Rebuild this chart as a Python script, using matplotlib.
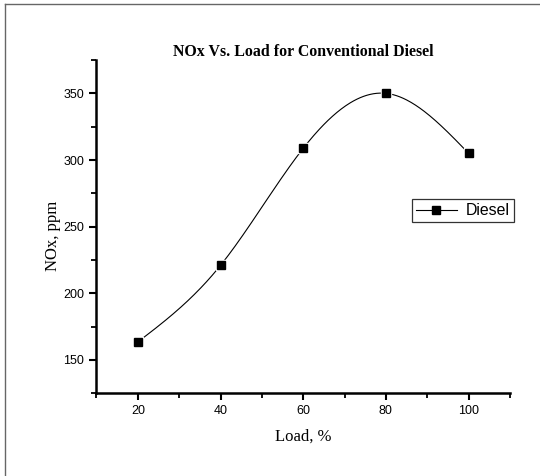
import numpy as np
import matplotlib
matplotlib.use('Agg')
import matplotlib.pyplot as plt
from matplotlib.lines import Line2D

# datos
load = [20, 40, 60, 80, 100]
nox = [163.5, 221.0, 308.8, 350.0, 305.0]
xticks = [20, 40, 60, 80, 100]
yticks = [150, 200, 250, 300, 350]


def spline_natural(x, y, xs):
    # spline cubico natural (como la curva "spline" de Origin)
    x = np.asarray(x, float)
    y = np.asarray(y, float)
    n = len(x)
    h = np.diff(x)
    A = np.zeros((n, n))
    b = np.zeros(n)
    A[0, 0] = 1
    A[-1, -1] = 1
    for i in range(1, n - 1):
        A[i, i - 1] = h[i - 1]
        A[i, i] = 2 * (h[i - 1] + h[i])
        A[i, i + 1] = h[i]
        b[i] = 6 * ((y[i + 1] - y[i]) / h[i] - (y[i] - y[i - 1]) / h[i - 1])
    M = np.linalg.solve(A, b)
    out = np.empty_like(xs)
    for k, xv in enumerate(xs):
        i = min(max(np.searchsorted(x, xv) - 1, 0), n - 2)
        t1 = x[i + 1] - xv
        t2 = xv - x[i]
        out[k] = (M[i] * t1**3 + M[i + 1] * t2**3) / (6 * h[i]) \
            + (y[i] / h[i] - M[i] * h[i] / 6) * t1 \
            + (y[i + 1] / h[i] - M[i + 1] * h[i] / 6) * t2
    return out


serif = 'Liberation Serif'
sans = 'Liberation Sans'

fig = plt.figure(figsize=(5.4, 4.76), dpi=100)
ax = fig.add_axes([0.1787, 0.1737, 0.7657, 0.7002])

xs = np.linspace(min(load), max(load), 300)
ax.plot(xs, spline_natural(load, nox, xs), color='black', lw=0.8)
# pequeño hueco blanco alrededor de los marcadores
ax.plot(load, nox, 's', color='white', ms=7.5)
ax.plot(load, nox, 's', color='black', ms=5.2)

ax.set_xlim(10, 110)
ax.set_ylim(125, 375)
ax.set_xticks(xticks)
ax.set_yticks(yticks)
ax.set_xticks([10, 30, 50, 70, 90, 110], minor=True)
ax.set_yticks([125, 175, 225, 275, 325, 375], minor=True)
ax.spines['top'].set_visible(False)
ax.spines['right'].set_visible(False)
ax.spines['left'].set_linewidth(1.8)
ax.spines['bottom'].set_linewidth(1.8)
ax.tick_params(which='major', direction='out', length=5.2, width=1.5, labelsize=9, pad=3.5)
ax.tick_params(which='minor', direction='out', length=3.6, width=1.3)
for lab in ax.get_xticklabels() + ax.get_yticklabels():
    lab.set_fontfamily(sans)

ax.set_title('NOx Vs. Load for Conventional Diesel', fontfamily=serif,
             fontweight='bold', fontsize=11.4, pad=2.5)
ax.set_xlabel('Load, %', fontfamily=serif, fontsize=12, labelpad=8)
ax.set_ylabel('NOx, ppm', fontfamily=serif, fontsize=12)
ax.yaxis.set_label_coords(-0.086, 0.472)

h = Line2D([], [], color='black', lw=0.8, marker='s', ms=5.2)
leg = ax.legend([h], ['Diesel'], loc='upper left', bbox_to_anchor=(0.762, 0.582),
                borderaxespad=0, frameon=True, fancybox=False, edgecolor='black',
                borderpad=0.25, handlelength=2.6, handletextpad=0.6,
                prop={'family': sans, 'size': 11.4})
leg.get_frame().set_linewidth(0.9)

# marco exterior (solo izquierda y arriba visibles)
fig.add_artist(Line2D([5 / 540, 5 / 540], [0, 1 - 4 / 476], color='#666666', lw=1))
fig.add_artist(Line2D([5 / 540, 1], [1 - 4 / 476, 1 - 4 / 476], color='#666666', lw=1))

fig.savefig('out.png', dpi=100)
